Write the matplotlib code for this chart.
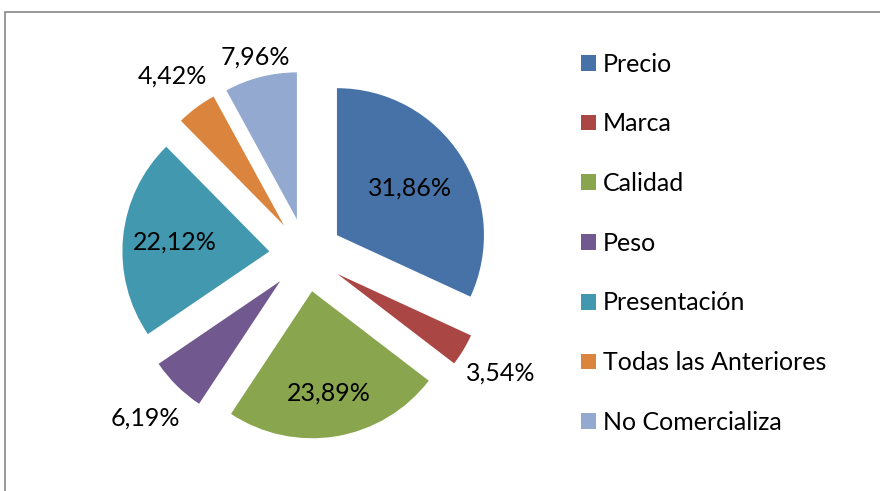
import numpy as np
import matplotlib.pyplot as plt
from matplotlib.patches import Rectangle

plt.rcParams['font.family'] = ['Lato', 'DejaVu Sans']

categorias = ['Precio', 'Marca', 'Calidad', 'Peso', 'Presentación',
              'Todas las Anteriores', 'No Comercializa']
porcentajes = [31.86, 3.54, 23.89, 6.19, 22.12, 4.42, 7.96]
etiquetas = ['31,86%', '3,54%', '23,89%', '6,19%', '22,12%', '4,42%', '7,96%']
colores = ['#4672A7', '#AA4644', '#89A54E', '#71588F', '#4198AF', '#DB843D', '#93A9CF']
# distancia de cada etiqueta al centro (en radios)
dist_etiq = [0.84, 1.55, 0.95, 1.56, 0.90, 1.52, 1.39]

fig = plt.figure(figsize=(8.8, 4.91), dpi=100)

# marco del grafico
fig.patches.append(Rectangle((5 / 880, -0.1), 1.0, (491 - 12) / 491 + 0.1,
                             transform=fig.transFigure, fill=False,
                             edgecolor='#868686', linewidth=1.2))

cx, cy, r = 306, 255, 147
half = 200
ax = fig.add_axes([(cx - half) / 880, (491 - cy - half) / 491, 2 * half / 880, 2 * half / 491])
ax.set_xlim(-half / r, half / r)
ax.set_ylim(-half / r, half / r)
ax.axis('off')

explode = [0.25] * len(porcentajes)
wedges, _ = ax.pie(porcentajes, colors=colores, explode=explode, startangle=90,
                   counterclock=False, radius=1.0, frame=True,
                   wedgeprops=dict(linewidth=0))
ax.axis('off')

for w, txt, d in zip(wedges, etiquetas, dist_etiq):
    ang = np.deg2rad((w.theta1 + w.theta2) / 2)
    ax.text(d * np.cos(ang), d * np.sin(ang), txt, ha='center', va='center',
            fontsize=18, color='black')

fig.legend(wedges, categorias, loc='upper left', bbox_to_anchor=(568 / 880, 1 - 40 / 491),
           frameon=False, fontsize=18, handlelength=0.6, handleheight=0.6,
           handletextpad=0.3, labelspacing=1.47, borderpad=0)

fig.savefig('out.png', dpi=100)
